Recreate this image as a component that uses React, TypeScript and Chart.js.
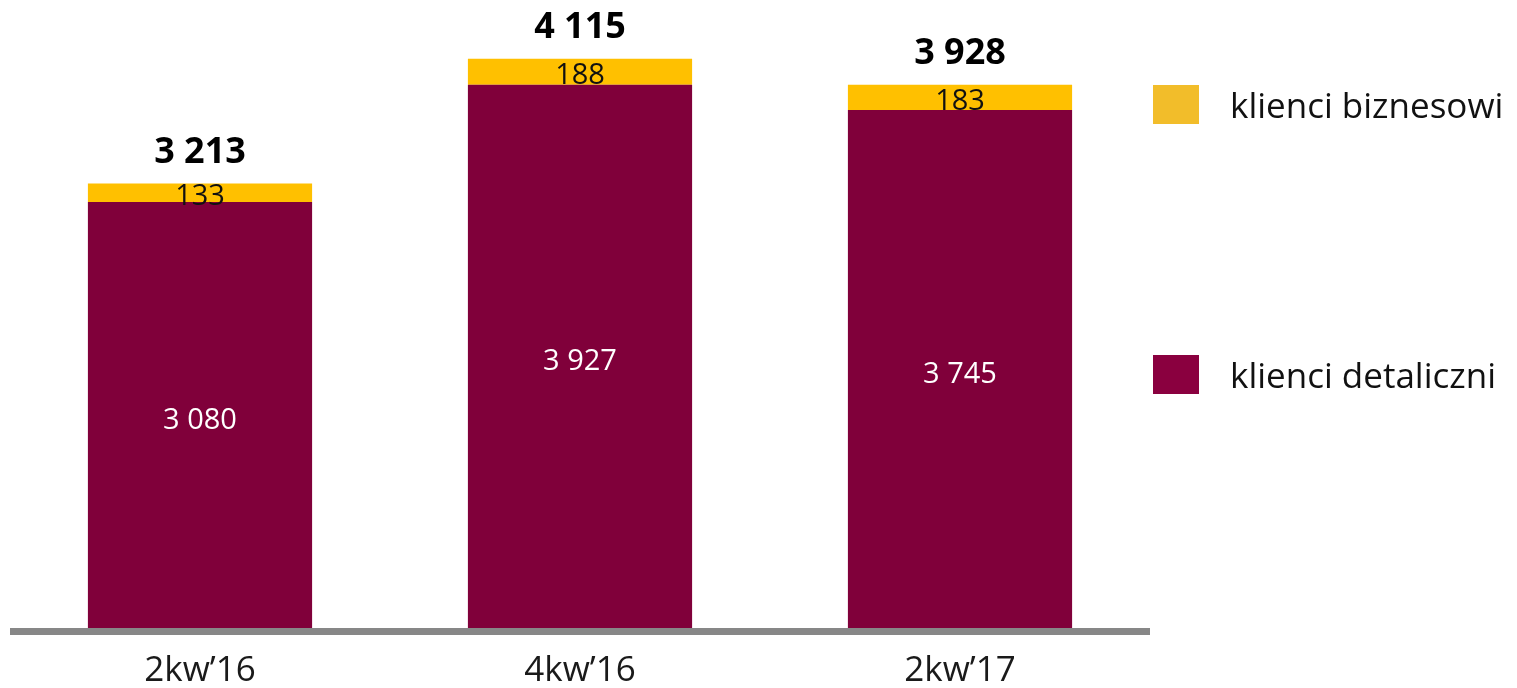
import React, { useEffect, useRef } from "react";
import { Chart, registerables } from "chart.js";

Chart.register(...registerables);

const categories = ["2kw\u201916", "4kw\u201916", "2kw\u201917"];
const retailValues = [3080, 3927, 3745];
const businessValues = [133, 188, 183];
const totals = [3213, 4115, 3928];
const seriesNames = ["klienci detaliczni", "klienci biznesowi"];

const MAROON = "#80003A";
const YELLOW = "#FFC000";
const LEGEND_MAROON = "#8A003F";
const LEGEND_YELLOW = "#F2BD2A";
const FONT = "'Open Sans', 'Noto Sans', sans-serif";

const fmt = (v: number) => {
  const s = String(v);
  return s.length > 3 ? s.slice(0, s.length - 3) + " " + s.slice(-3) : s;
};

const labelsPlugin = {
  id: "customLabels",
  afterDatasetsDraw(chart: any) {
    const ctx = chart.ctx;
    const area = chart.chartArea;
    ctx.save();
    // axis line
    ctx.fillStyle = "#878787";
    ctx.fillRect(area.left, area.bottom, area.right - area.left, 7);

    const m0 = chart.getDatasetMeta(0);
    const m1 = chart.getDatasetMeta(1);
    ctx.textAlign = "center";
    ctx.textBaseline = "alphabetic";
    m0.data.forEach((bar: any, i: number) => {
      const c = (bar.y + bar.base) / 2;
      ctx.fillStyle = "#ffffff";
      ctx.font = `29px ${FONT}`;
      ctx.fillText(fmt(retailValues[i]), bar.x, c + 14);
    });
    m1.data.forEach((bar: any, i: number) => {
      const c = (bar.y + bar.base) / 2;
      ctx.fillStyle = "#111111";
      ctx.font = `29px ${FONT}`;
      ctx.fillText(fmt(businessValues[i]), bar.x, c + 12.5);
      ctx.font = `bold 36px ${FONT}`;
      ctx.fillStyle = "#000000";
      ctx.fillText(fmt(totals[i]), bar.x, bar.y - 21);
    });

    // legend
    const items = [
      { name: seriesNames[1], color: LEGEND_YELLOW, top: 85 },
      { name: seriesNames[0], color: LEGEND_MAROON, top: 355 },
    ];
    ctx.textAlign = "left";
    items.forEach((it) => {
      ctx.fillStyle = it.color;
      ctx.fillRect(1153, it.top, 46, 39);
      ctx.fillStyle = "#111111";
      ctx.font = `35px ${FONT}`;
      ctx.fillText(it.name, 1230, it.top + 32.5);
    });
    ctx.restore();
  },
};

export default function App() {
  const ref = useRef<HTMLCanvasElement>(null);
  useEffect(() => {
    if (!ref.current) return;
    const chart = new Chart(ref.current, {
      type: "bar",
      data: {
        labels: categories,
        datasets: [
          {
            label: seriesNames[0],
            data: retailValues,
            backgroundColor: MAROON,
            categoryPercentage: 1,
            barPercentage: 0.59,
          },
          {
            label: seriesNames[1],
            data: businessValues,
            backgroundColor: YELLOW,
            categoryPercentage: 1,
            barPercentage: 0.59,
          },
        ],
      },
      options: {
        responsive: false,
        animation: false,
        layout: { padding: { left: 10, right: 367, top: 0, bottom: 0 } },
        plugins: { legend: { display: false }, tooltip: { enabled: false } },
        scales: {
          x: {
            stacked: true,
            grid: { display: false, drawTicks: false },
            border: { display: false },
            ticks: {
              color: "#1a1a1a",
              font: { family: FONT, size: 35 },
              padding: 22,
              maxRotation: 0,
            },
            afterFit: (s: any) => {
              s.height = 60;
            },
          },
          y: {
            stacked: true,
            display: false,
            min: 0,
            max: 4540,
          },
        },
      },
      plugins: [labelsPlugin],
    });
    return () => chart.destroy();
  }, []);
  return (
    <div style={{ position: "fixed", left: 0, top: 0, width: 1517, height: 688, background: "#ffffff" }}>
      <canvas ref={ref} width={1517} height={688} />
    </div>
  );
}
